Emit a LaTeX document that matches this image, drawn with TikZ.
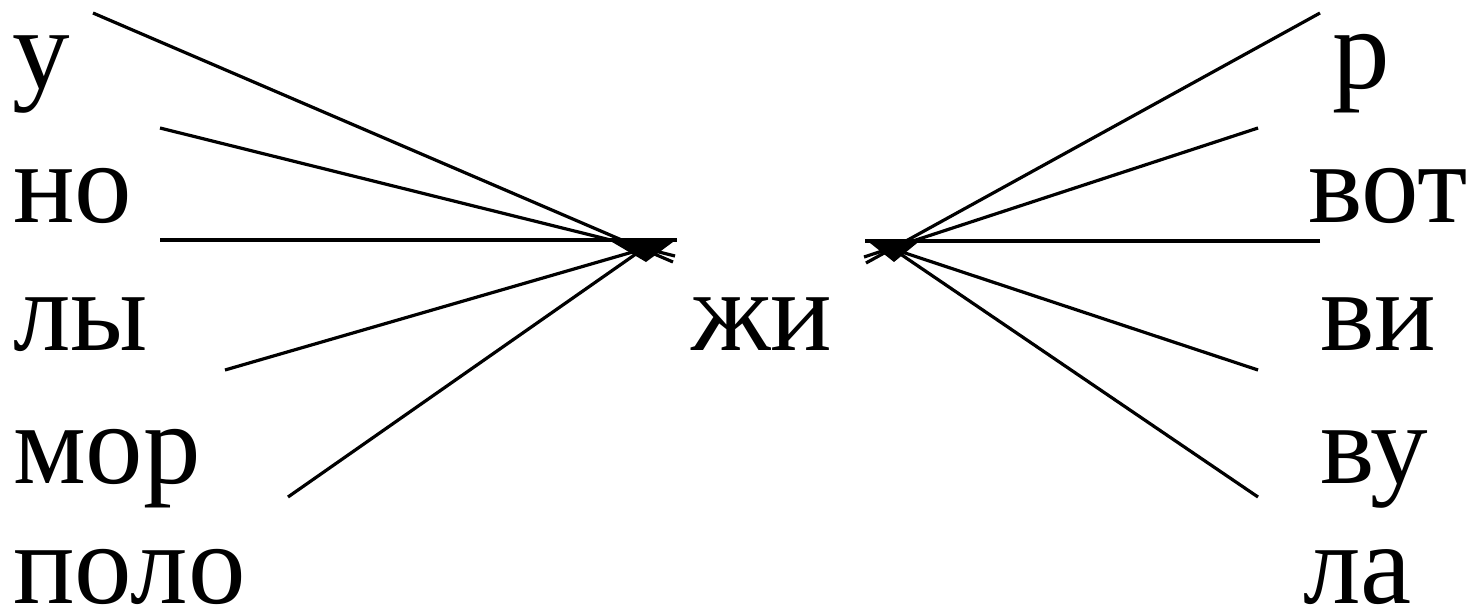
\documentclass[tikz,border=0pt]{standalone}
\usepackage{fontspec}
\setmainfont{Liberation Serif}
\begin{document}
\begin{tikzpicture}[x=1pt,y=-1pt,
  word/.style={anchor=base west,inner sep=0pt,font=\fontsize{115}{115}\selectfont},
  ray/.style={line width=3.2pt}]
\useasboundingbox (0,0) rectangle (1476,611);
\fill[white] (0,0) rectangle (1476,611);
% words
\node[word] (u) at (12,88) {у};
\node[word] (no) at (13,222) {но};
\node[word] (ly) at (13,350) {лы};
\node[word] (mor) at (13,483) {мор};
\node[word] (polo) at (13,603) {поло};
\node[word] (zhi) at (691,350) {жи};
\node[word] (r) at (1332,88) {р};
\node[word] (vot) at (1308,222) {вот};
\node[word] (vi) at (1320,350) {ви};
\node[word] (vu) at (1320,483) {ву};
\node[word] (la) at (1303,603) {ла};
% convergence points
\coordinate (cl) at (643,249);
\coordinate (cr) at (893,249);
% left rays
\coordinate (l1) at (93,13);  \coordinate (l1e) at (673,262);
\coordinate (l2) at (160,128); \coordinate (l2e) at (675,256);
\coordinate (l3) at (160,240); \coordinate (l3e) at (677,240);
\coordinate (l4) at (225,370);
\coordinate (l5) at (288,497);
\draw[ray] (l1) -- (l1e);
\draw[ray] (l2) -- (l2e);
\draw[ray] (l3) -- (l3e);
\draw[ray] (l4) -- (cl);
\draw[ray] (l5) -- (cl);
\fill (607,239) -- (677,239) -- (646,262) -- cycle;
% right rays
\coordinate (r1) at (1320,13);  \coordinate (r1e) at (866,263);
\coordinate (r2) at (1258,128); \coordinate (r2e) at (864,257);
\coordinate (r3) at (1320,241); \coordinate (r3e) at (865,241);
\coordinate (r4) at (1258,370);
\coordinate (r5) at (1258,497);
\draw[ray] (r1) -- (r1e);
\draw[ray] (r2) -- (r2e);
\draw[ray] (r3) -- (r3e);
\draw[ray] (r4) -- (cr);
\draw[ray] (r5) -- (cr);
\fill (865,239) -- (922,239) -- (894,262) -- cycle;
\end{tikzpicture}
\end{document}
